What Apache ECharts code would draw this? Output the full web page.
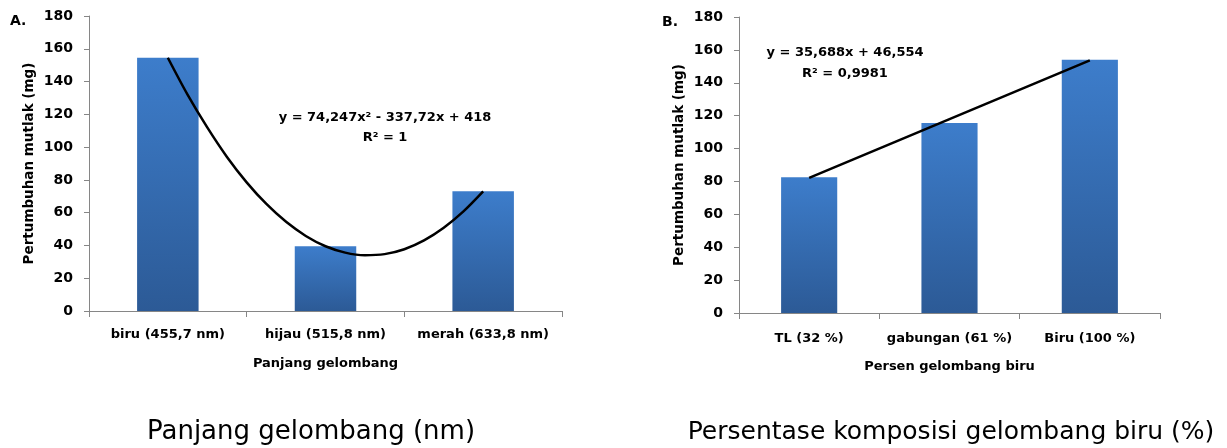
<!DOCTYPE html>
<html>
<head>
<meta charset="utf-8">
<script src="https://cdn.jsdelivr.net/npm/echarts@6/dist/echarts.min.js"></script>
<style>
html,body{margin:0;padding:0;background:#fff;}
#c{width:1227px;height:448px;}
</style>
</head>
<body>
<div id="c"></div>
<script>
// Chart A: wavelength
const catsA = ['biru (455,7 nm)', 'hijau (515,8 nm)', 'merah (633,8 nm)'];
const valsA = [154.5, 39.5, 73];
// polynomial trendline, points (x = category position 1..3)
const trendA = [[1, 154.5], [1.125, 132], [1.25, 112], [1.375, 94], [1.5, 78.5], [1.625, 65.3], [1.75, 54.4],
  [1.875, 45.8], [2, 39.5], [2.125, 35.6], [2.25, 34], [2.375, 34.7], [2.5, 37.7], [2.625, 43.1],
  [2.75, 50.8], [2.875, 60.8], [3, 73]];
const eqA = ['y = 74,247x² - 337,72x + 418', 'R² = 1'];

// Chart B: percent blue
const catsB = ['TL (32 %)', 'gabungan (61 %)', 'Biru (100 %)'];
const valsB = [82.5, 115.5, 154];
const trendB = [82.2, 117.9, 153.6];
const eqB = ['y = 35,688x + 46,554', 'R² = 0,9981'];

const yTicks = {min: 0, max: 180, interval: 20};
const captions = ['Panjang gelombang (nm)', 'Persentase komposisi gelombang biru (%)'];

const F = 'DejaVu Sans';
const axisCol = '#868686';
const barGrad = new echarts.graphic.LinearGradient(0, 0, 0, 1, [
  {offset: 0, color: '#3d7dcb'},
  {offset: 1, color: '#2c5a96'}
]);

function yAx(gi) {
  return {
    type: 'value', gridIndex: gi, min: yTicks.min, max: yTicks.max, interval: yTicks.interval,
    name: 'Pertumbuhan mutlak (mg)', nameLocation: 'middle', nameGap: 53,
    nameTextStyle: {fontFamily: F, fontWeight: 'bold', fontSize: 13.5, color: '#000'},
    axisLine: {show: true, lineStyle: {color: axisCol, width: 1}},
    axisTick: {show: true, length: 5, lineStyle: {color: axisCol}},
    axisLabel: {fontFamily: F, fontWeight: 'bold', fontSize: 14, color: '#000', margin: 16},
    splitLine: {show: false}
  };
}
function xAx(gi, cats, name, margin, gap) {
  return {
    type: 'category', gridIndex: gi, data: cats,
    name: name, nameLocation: 'middle', nameGap: gap,
    nameTextStyle: {fontFamily: F, fontWeight: 'bold', fontSize: 13, color: '#000'},
    axisLine: {show: true, lineStyle: {color: axisCol, width: 1}},
    axisTick: {show: true, length: 6, lineStyle: {color: axisCol}},
    axisLabel: {fontFamily: F, fontWeight: 'bold', fontSize: 13, color: '#000', margin: margin, interval: 0},
    splitLine: {show: false}
  };
}

const chart = echarts.init(document.getElementById('c'));
chart.setOption({
  animation: false,
  backgroundColor: '#fff',
  grid: [
    {left: 89, right: 665, top: 16, bottom: 137},
    {left: 739, right: 67, top: 17, bottom: 135}
  ],
  xAxis: [
    xAx(0, catsA, 'Panjang gelombang', 17, 46),
    xAx(1, catsB, 'Persen gelombang biru', 19, 47),
    {type: 'value', gridIndex: 0, min: 0.5, max: 3.5, show: false}
  ],
  yAxis: [yAx(0), yAx(1)],
  series: [
    {type: 'bar', xAxisIndex: 0, yAxisIndex: 0, data: valsA, barWidth: '39%', itemStyle: {color: barGrad}},
    {type: 'line', xAxisIndex: 2, yAxisIndex: 0, data: trendA, smooth: 0.3, symbol: 'none',
     lineStyle: {color: '#000', width: 2.5}, z: 5},
    {type: 'bar', xAxisIndex: 1, yAxisIndex: 1, data: valsB, barWidth: '40%', itemStyle: {color: barGrad}},
    {type: 'line', xAxisIndex: 1, yAxisIndex: 1, data: trendB, symbol: 'none',
     lineStyle: {color: '#000', width: 2.5}, z: 5}
  ],
  graphic: [
    {type: 'text', left: 10, top: 14, style: {text: 'A.', font: 'bold 14px "DejaVu Sans"', fill: '#000'}},
    {type: 'text', left: 662, top: 15, style: {text: 'B.', font: 'bold 14px "DejaVu Sans"', fill: '#000'}},
    {type: 'text', x: 385, y: 118, style: {text: eqA[0], font: 'bold 13px "DejaVu Sans"', fill: '#000', align: 'center', verticalAlign: 'middle'}},
    {type: 'text', x: 385, y: 138, style: {text: eqA[1], font: 'bold 13px "DejaVu Sans"', fill: '#000', align: 'center', verticalAlign: 'middle'}},
    {type: 'text', x: 845, y: 53, style: {text: eqB[0], font: 'bold 13px "DejaVu Sans"', fill: '#000', align: 'center', verticalAlign: 'middle'}},
    {type: 'text', x: 845, y: 74, style: {text: eqB[1], font: 'bold 13px "DejaVu Sans"', fill: '#000', align: 'center', verticalAlign: 'middle'}},
    {type: 'text', x: 311, y: 432, style: {text: captions[0], font: '26px "DejaVu Sans"', fill: '#000', align: 'center', verticalAlign: 'middle'}},
    {type: 'text', x: 951, y: 432, style: {text: captions[1], font: '25px "DejaVu Sans"', fill: '#000', align: 'center', verticalAlign: 'middle'}}
  ]
});
</script>
</body>
</html>
